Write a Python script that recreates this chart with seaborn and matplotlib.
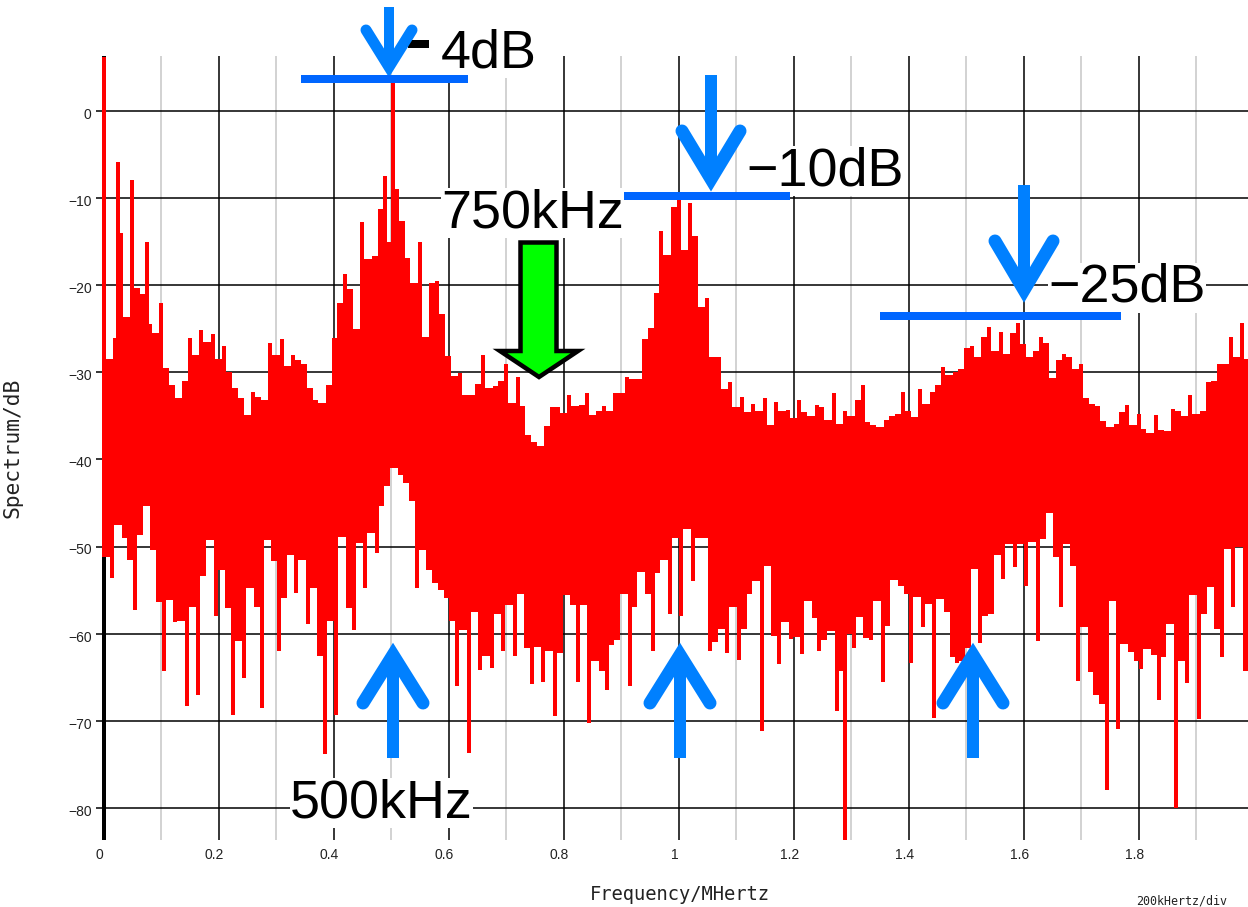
import numpy as np
import pandas as pd
import matplotlib
matplotlib.use("Agg")
import matplotlib.pyplot as plt
import matplotlib.transforms as mtrans
from matplotlib.patches import Polygon, Rectangle
import seaborn as sns

# upper edge of the trace, one value per 0.01 MHz
peak_db = [
    6.2, -28.5, -26.1, -14, -23.6, -20, -20.3, -21, -24.5, -25.5,
    -22, -29.5, -31.5, -33, -31, -26.1, -28, -25.2, -26.5, -25.6,
    -28.5, -27, -30, -31.8, -33, -34.9, -32.3, -32.8, -33.2, -26.6,
    -28, -26.2, -29.3, -28, -28.6, -29.1, -31.8, -33.2, -33.5, -31.5,
    -26.1, -22, -18.7, -20.4, -25, -12.8, -17, -16.6, -11.2, -7.5,
    -15, -9, -12.6, -16.9, -19.7, -15, -25.9, -19.7, -19.5, -23.3,
    -28.1, -30.4, -30.1, -32.6, -32.6, -31.4, -28, -31.8, -31.6, -31,
    -29, -33.5, -30.5, -33.9, -37.2, -38, -38.5, -36.2, -34, -34,
    -34.7, -32.6, -33.9, -33.7, -32.4, -34.9, -34.5, -33.9, -34.5, -32.4,
    -32.4, -30.5, -30.8, -30.8, -26.2, -24.9, -20.9, -13.8, -16.5, -11,
    -10.2, -16, -10.6, -14.3, -22.5, -21.5, -28.2, -28.2, -31.9, -31.1,
    -34, -32.8, -34.6, -33.6, -34.4, -33, -36, -33.4, -34.4, -34.3,
    -35.3, -33.2, -34.6, -35, -33.8, -34, -35.5, -32.4, -35.9, -34.4,
    -35, -33.2, -31.5, -35.7, -36.1, -36.3, -35.5, -35, -34.8, -32.3,
    -34.4, -35.1, -31.9, -33.6, -32.3, -31.5, -29.4, -30.3, -30, -29.6,
    -27.2, -27, -28.3, -26, -24.8, -27.5, -25.4, -27.9, -25.5, -24.3,
    -26.7, -28.3, -27.5, -26, -26.6, -30.6, -28.6, -27.9, -28.2, -29.6,
    -29, -32.9, -33.6, -33.9, -35.6, -36.3, -35.9, -34.6, -33.7, -36.1,
    -34.8, -36.5, -37, -34.9, -36.6, -36.7, -34.2, -34.4, -35, -32.6,
    -34.8, -34.5, -31.1, -31, -29, -29, -26, -28.3, -24.3, -28.5,
]

# lower edge of the trace, half a bin after each peak
dip_db = [
    -51.2, -53.6, -47.5, -49, -51.5, -57.3, -48.7, -45.4, -50.4, -56.4,
    -64.3, -56.1, -58.7, -58.6, -68.3, -57, -67, -53.4, -49.2, -58,
    -52.7, -57.1, -69.3, -60.8, -65.1, -54.8, -57, -68.5, -49.2, -51.7,
    -62, -55.9, -51, -55.3, -51.5, -58.9, -54.8, -62.6, -73.8, -58.5,
    -69.3, -48.9, -57.1, -59.6, -49.6, -54.8, -48.5, -50.8, -45.4, -43,
    -41, -41.8, -42.7, -44.8, -54.8, -50.4, -52.7, -54.2, -55, -55.9,
    -58.6, -66, -59.6, -73.7, -57.5, -64.2, -62.6, -64, -57.7, -62,
    -56.7, -62.6, -55.4, -61.7, -65.8, -61.5, -65.6, -62, -69.5, -62.2,
    -55.6, -56.7, -65.5, -56.7, -70.3, -63.2, -64.3, -66.5, -61.3, -60.7,
    -55.4, -66, -56.9, -52.9, -55.4, -62, -53, -51.5, -57.8, -49,
    -58, -48, -54, -49, -49, -62, -61, -59.5, -62.2, -57,
    -63, -59.5, -55.4, -54, -71.2, -52.2, -60.3, -63.5, -58.7, -60.6,
    -60.4, -62.3, -56.2, -58.2, -62, -60.7, -59.7, -68.9, -64.3, -60,
    -61.6, -58.1, -60.5, -60.7, -56.2, -65.6, -59.1, -53.9, -54.5, -55.4,
    -63.4, -55.8, -59.2, -56.6, -69.7, -56, -57.5, -62.7, -63.4, -63.1,
    -61.6, -52.6, -61.1, -58, -57.7, -51, -53.7, -49.7, -52.4, -49.7,
    -54.5, -49.5, -60.9, -49.1, -46.2, -51.2, -56.9, -49.7, -52.2, -65.4,
    -59.2, -64.4, -67.1, -68.1, -78, -56.2, -71, -61.2, -62.1, -63.2,
    -64.1, -61.8, -62.5, -67.6, -62.7, -58.9, -80, -63.2, -65.7, -55.6,
    -69.8, -57.7, -54.7, -59.5, -62.7, -50.3, -56.9, -50, -64.3, -66.6,
]

# the few lines that stand clear of the bins
spike_freq = [0.025, 0.05, 0.075, 0.503, 1.29]
spike_top = [-5.9, -7.9, -15.0, 3.8, -45.0]
spike_bot = [-40.0, -40.0, -40.0, -40.0, -83.7]

y_ticks = [0, -10, -20, -30, -40, -50, -60, -70, -80]
x_ticks = [0, 0.2, 0.4, 0.6, 0.8, 1.0, 1.2, 1.4, 1.6, 1.8]
x_labels = ["0", "0.2", "0.4", "0.6", "0.8", "1", "1.2", "1.4", "1.6", "1.8"]
x_minor = [0.1, 0.3, 0.5, 0.7, 0.9, 1.1, 1.3, 1.5, 1.7, 1.9]

W, H = 1248, 907
PX = 0.72  # points per pixel at dpi 100

sns.set_theme(style="white")
plt.rcParams["font.family"] = ["Liberation Sans", "DejaVu Sans"]

peak = np.array(peak_db)
dip = np.array(dip_db)
bins = np.arange(len(peak)) * 0.01

# every bin is two vertical bars, the neighbours close the gap between them
peak_low = np.maximum(dip, np.r_[dip[0], dip[:-1]])
dip_high = np.minimum(peak, np.r_[peak[1:], peak[-1]])

bar_x = np.r_[bins, bins + 0.005, spike_freq]
bar_a = np.r_[peak, dip, spike_top]
bar_b = np.r_[peak_low, dip_high, spike_bot]
ids = np.arange(len(bar_x))
df = pd.DataFrame({
    "freq": np.r_[bar_x, bar_x],
    "db": np.r_[bar_a, bar_b],
    "bar": np.r_[ids, ids],
})

fig = plt.figure(figsize=(W / 100, H / 100), dpi=100, facecolor="white")
x0, x1, y_top, y_bot = 103.5, 1248, 56.5, 840
ax = fig.add_axes([x0 / W, 1 - y_bot / H, (x1 - x0) / W, (y_bot - y_top) / H])

sns.lineplot(data=df, x="freq", y="db", units="bar", estimator=None, sort=False,
             color="#ff0000", linewidth=4 * PX, solid_capstyle="butt",
             legend=False, ax=ax, zorder=3, clip_on=False)

ax.set_xlim(0, (x1 - x0) / 575)
ax.set_ylim(-(y_bot - 111) / 8.71, (111 - y_top) / 8.71)
ax.set_xticks(x_ticks)
ax.set_xticklabels(x_labels)
ax.set_xticks(x_minor, minor=True)
ax.set_yticks(y_ticks)
ax.set_xlabel("")
ax.set_ylabel("")
ax.set_axisbelow(True)
ax.grid(which="major", color="black", linewidth=1.1)
ax.grid(which="minor", axis="x", color="#c6c6c6", linewidth=1.1)
ax.tick_params(axis="x", which="both", length=0, pad=6, labelsize=10, labelcolor="#222222")
ax.tick_params(axis="y", length=5.5, width=1.1, color="black", pad=3, labelsize=10, labelcolor="#222222", left=True)
for side in ["top", "right", "bottom"]:
    ax.spines[side].set_visible(False)
ax.spines["left"].set_linewidth(4 * PX)
ax.spines["left"].set_color("black")
ax.spines["left"].set_capstyle("butt")

# tick labels sit a little off their grid lines in the original
for lab in ax.get_xticklabels():
    lab.set_transform(lab.get_transform() + mtrans.Affine2D().translate(-4, 0))
for lab in ax.get_yticklabels():
    lab.set_transform(lab.get_transform() + mtrans.Affine2D().translate(0, -2.5))

# overlay in picture pixels for the hand drawn annotations
over = fig.add_axes([0, 0, 1, 1], zorder=5)
over.set_xlim(0, W)
over.set_ylim(H, 0)
over.axis("off")
over.patch.set_alpha(0)

mono = "DejaVu Sans Mono"
over.text(13, 448, "Spectrum/dB", rotation=90, ha="center", va="center", fontsize=15.3, family=mono, color="#222222")
over.text(680, 894, "Frequency/MHertz", ha="center", va="center", fontsize=13.5, family=mono, color="#222222")
over.text(1136, 901, "200kHertz/div", ha="left", va="center", fontsize=8.4, family=mono, color="#222222")


def big_text(x, y, s):
    over.text(x, y, s, fontsize=38.8, color="black", ha="left", va="baseline", zorder=2,
              bbox=dict(facecolor="white", edgecolor="none", pad=0))


big_text(441, 67, "4dB")
big_text(746, 185, "\u221210dB")
big_text(1048, 302, "\u221225dB")
big_text(441, 227, "750kHz")
big_text(290, 817, "500kHz")
over.add_patch(Rectangle((408, 40), 21, 7.5, facecolor="black", edgecolor="none", zorder=3))


def blue_arrow(x, tail, vertex, end_y, half, width):
    over.plot([x, x], [tail, vertex], color="#0080ff", lw=width * PX, solid_capstyle="butt", zorder=4)
    over.plot([x - half, x, x + half], [end_y, vertex, end_y], color="#0080ff", lw=(width + 1) * PX,
              solid_capstyle="round", solid_joinstyle="miter", zorder=4)


blue_arrow(389, 7, 67, 30, 23, 10)
blue_arrow(711, 75, 179, 131, 29, 12)
blue_arrow(1024, 185, 290, 241, 29, 12)
blue_arrow(393, 758, 655, 703, 30, 12)
blue_arrow(680, 758, 655, 703, 30, 12)
blue_arrow(973, 758, 655, 703, 30, 12)

for xa, xb, yy in [(301, 468, 78.5), (624, 790, 195.5), (880, 1121, 316)]:
    over.plot([xa, xb], [yy, yy], color="#0066ff", lw=8 * PX, solid_capstyle="butt", zorder=4)

over.add_patch(Polygon([(520.5, 242.5), (556.5, 242.5), (556.5, 351), (578, 351), (539, 377),
                        (500, 351), (520.5, 351)], closed=True, facecolor="#00ff00",
                       edgecolor="black", linewidth=4.5 * PX, joinstyle="miter", zorder=4))

fig.savefig("out.png", dpi=100)
